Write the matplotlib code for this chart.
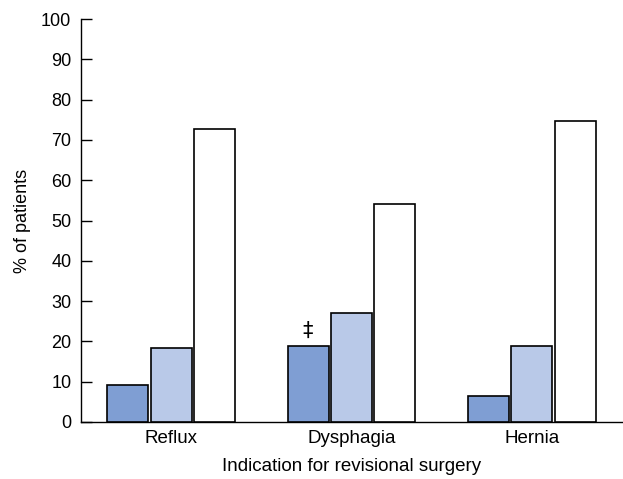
import matplotlib
matplotlib.use("Agg")
import matplotlib.pyplot as plt
import numpy as np

categories = ["Reflux", "Dysphagia", "Hernia"]
series_dark = [9.2, 18.8, 6.4]
series_light = [18.4, 27.1, 18.9]
series_white = [72.6, 54.0, 74.7]
yticks = [0, 10, 20, 30, 40, 50, 60, 70, 80, 90, 100]
annotation = {"index": 1, "text": "‡"}

plt.rcParams['font.family'] = ['Liberation Sans', 'DejaVu Sans']

fig = plt.figure(figsize=(6.23, 4.79), dpi=100)
ax = fig.add_axes([81/623, 57/479, (622-81)/623, (422-19)/479])

x = np.arange(len(categories))
w = 0.227
off = 0.241
lw = 1.2
ax.bar(x - off, series_dark, w, color="#7F9ED3", edgecolor="black", linewidth=lw, zorder=3)
ax.bar(x, series_light, w, color="#B9C9E8", edgecolor="black", linewidth=lw, zorder=3)
ax.bar(x + off, series_white, w, color="white", edgecolor="black", linewidth=lw, zorder=3)

i = annotation["index"]
ax.text(x[i] - off, series_dark[i] + 1.4, annotation["text"], ha="center", va="bottom",
        fontsize=15, family=['DejaVu Sans'])

ax.set_xlim(-0.5, 2.5)
ax.set_ylim(0, 100)
ax.set_yticks(yticks)
ax.set_yticklabels([str(t) for t in yticks], fontsize=13)
ax.set_xticks(x)
ax.set_xticklabels(categories, fontsize=13.5)
ax.tick_params(axis='y', direction='in', length=8, width=1, pad=7)
ax.tick_params(axis='x', length=0, pad=6)
ax.spines['top'].set_visible(False)
ax.spines['right'].set_visible(False)
for s in ['left', 'bottom']:
    ax.spines[s].set_linewidth(1)
ax.set_xlabel("Indication for revisional surgery", fontsize=13.5, labelpad=8)
ax.set_ylabel("% of patients", fontsize=13, labelpad=7)

fig.savefig("out.png", dpi=100)
